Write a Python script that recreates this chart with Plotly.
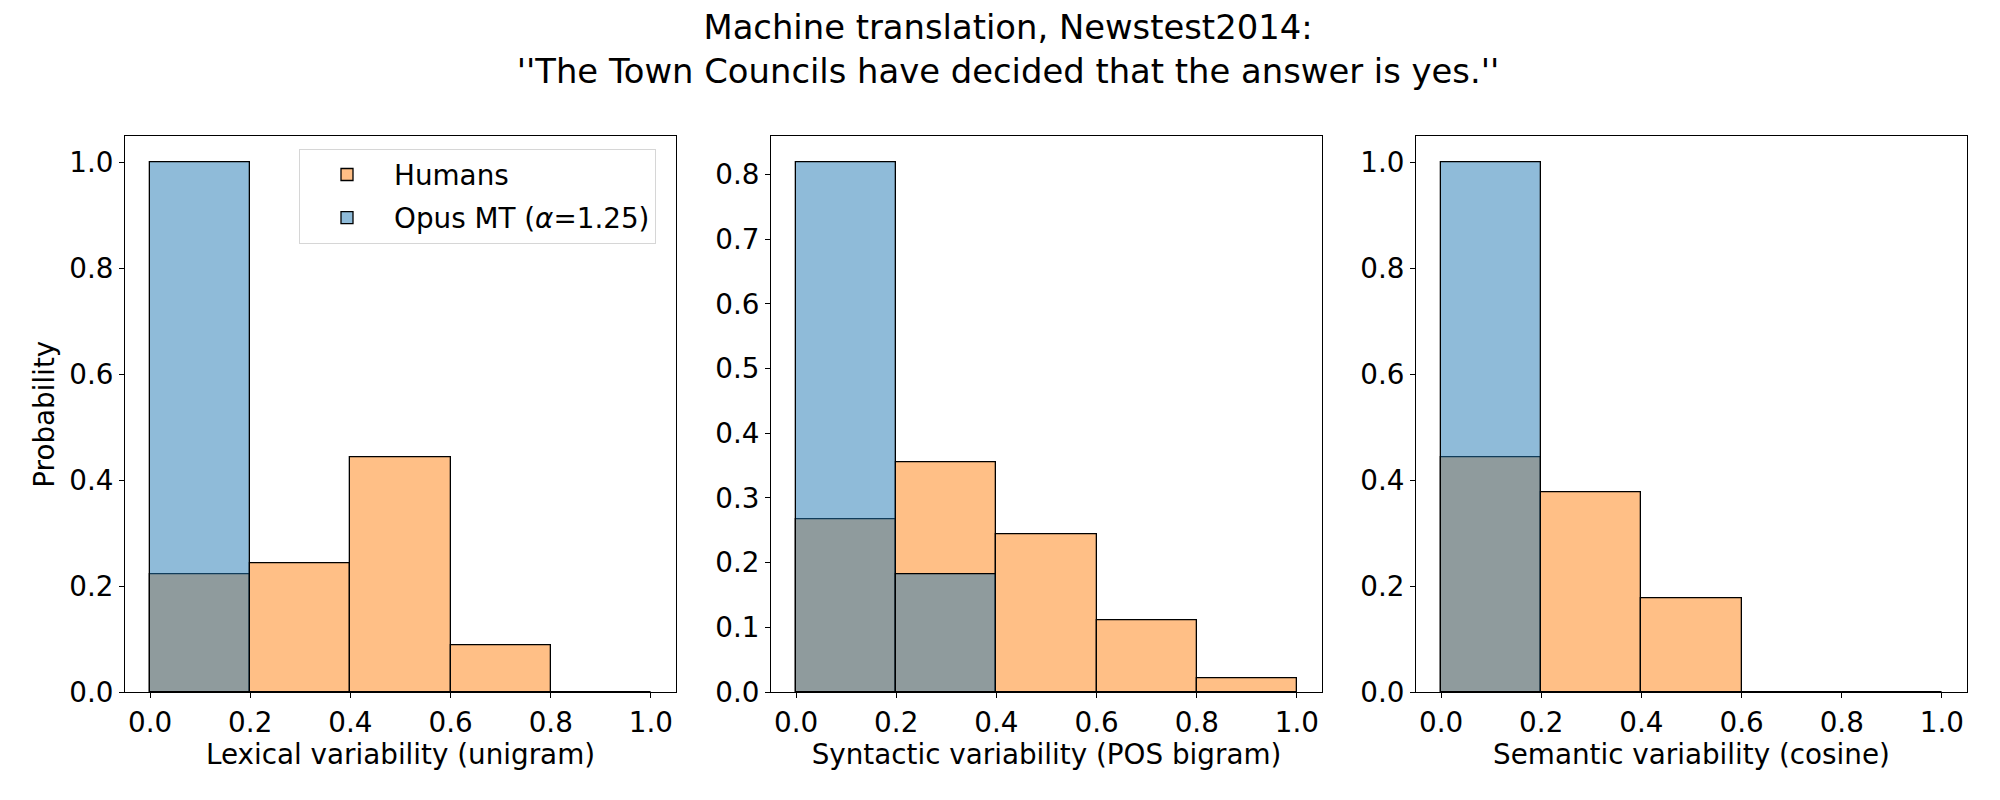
import plotly.graph_objects as go

# ---- data ----
bin_edges = [0.0, 0.2, 0.4, 0.6, 0.8]
bin_width = 0.2

lexical_humans = [0.222, 0.244, 0.444, 0.089, 0.0]
lexical_opus = [1.0, 0.0, 0.0, 0.0, 0.0]

syntactic_humans = [0.267, 0.356, 0.244, 0.111, 0.022]
syntactic_opus = [0.818, 0.182, 0.0, 0.0, 0.0]

semantic_humans = [0.444, 0.378, 0.178, 0.0, 0.0]
semantic_opus = [1.0, 0.0, 0.0, 0.0, 0.0]

x_titles = ["Lexical variability (unigram)",
            "Syntactic variability (POS bigram)",
            "Semantic variability (cosine)"]
y_title = "Probability"
series_names = ["Humans", "Opus MT (<i>α</i>=1.25)"]
title_text = ("Machine translation, Newstest2014:<br>"
              "''The Town Councils have decided that the answer is yes.''")

x_ticks = [0.0, 0.2, 0.4, 0.6, 0.8, 1.0]
y_ticks = [[0.0, 0.2, 0.4, 0.6, 0.8, 1.0],
           [0.0, 0.1, 0.2, 0.3, 0.4, 0.5, 0.6, 0.7, 0.8],
           [0.0, 0.2, 0.4, 0.6, 0.8, 1.0]]
y_max = [1.0, 0.818, 1.0]

panels = [(lexical_humans, lexical_opus),
          (syntactic_humans, syntactic_opus),
          (semantic_humans, semantic_opus)]

HUMAN_COLOR = "rgba(255,127,14,0.5)"
OPUS_COLOR = "rgba(31,119,180,0.5)"
FONT = "DejaVu Sans"
FS = 27.8

fig = go.Figure()

for i, (hum, opus) in enumerate(panels):
    suffix = "" if i == 0 else str(i + 1)
    for name, vals, col in [(series_names[0], hum, HUMAN_COLOR),
                            (series_names[1], opus, OPUS_COLOR)]:
        fig.add_trace(go.Bar(
            x=bin_edges, y=vals, width=[bin_width] * len(bin_edges), offset=0,
            name=name, showlegend=(i == 0), legendgroup=name,
            marker=dict(color=col, line=dict(color="black", width=1.3)),
            xaxis="x" + suffix, yaxis="y" + suffix,
        ))

x_domains = [[117 / 2000, 668 / 2000], [763 / 2000, 1314 / 2000], [1408 / 2000, 1959 / 2000]]
y_domain = [1 - 699 / 800, 1 - 131 / 800]

fig.update_layout(
    width=2000, height=800,
    margin=dict(l=0, r=0, t=0, b=0),
    paper_bgcolor="white", plot_bgcolor="white",
    barmode="overlay", bargap=0,
    font=dict(family=FONT, size=FS, color="black"),
    title=dict(text=title_text, x=0.5, xanchor="center",
               y=1 - 31 / 800, yanchor="top", yref="container",
               font=dict(family=FONT, size=33.8, color="black")),
    legend=dict(x=648 / 2000, y=1 - 144 / 800, xanchor="right", yanchor="top",
                xref="paper", yref="paper",
                bgcolor="rgba(255,255,255,0.8)", bordercolor="#d6d6d6", borderwidth=1,
                font=dict(family=FONT, size=FS), tracegroupgap=4,
                itemwidth=84),
)

for i in range(3):
    suffix = "" if i == 0 else str(i + 1)
    fig.update_layout(**{
        "xaxis" + suffix: dict(
            domain=x_domains[i], anchor="y" + suffix, range=[-0.05, 1.05],
            tickvals=x_ticks, ticktext=[f"{t:.1f}" for t in x_ticks],
            ticks="outside", ticklen=5, tickcolor="black", tickwidth=1,
            showline=True, linecolor="black", linewidth=1, mirror=True,
            showgrid=False, zeroline=False,
            tickfont=dict(size=FS),
            title=dict(text=x_titles[i], font=dict(size=FS), standoff=6)),
        "yaxis" + suffix: dict(
            domain=y_domain, anchor="x" + suffix, range=[0, y_max[i] * 1.05],
            tickvals=y_ticks[i], ticktext=[f"{t:.1f}" for t in y_ticks[i]],
            ticks="outside", ticklen=5, tickcolor="black", tickwidth=1,
            showline=True, linecolor="black", linewidth=1, mirror=True,
            showgrid=False, zeroline=False,
            tickfont=dict(size=FS),
            title=dict(text=y_title if i == 0 else "", font=dict(size=FS), standoff=6)),
    })

fig.write_html("out.html")
